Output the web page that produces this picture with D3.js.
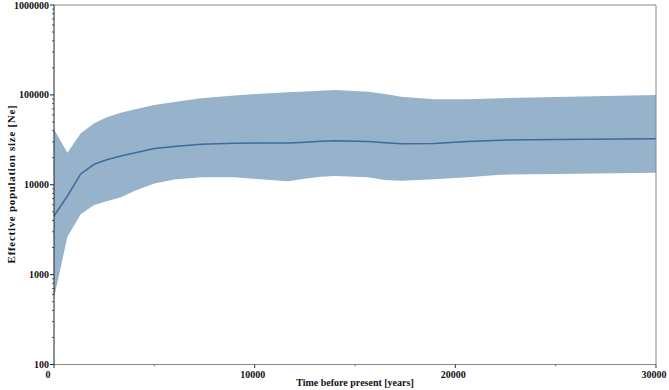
<!DOCTYPE html>
<html>
<head>
<meta charset="utf-8">
<script src="https://cdn.jsdelivr.net/npm/d3@7"></script>
<style>
  body { margin: 0; background: #fff; }
  svg { display: block; }
  text { font-family: "Liberation Serif", "DejaVu Serif", serif; font-weight: bold; fill: #111; }
</style>
</head>
<body>
<svg width="669" height="390"></svg>
<script>
// years before present
const times = [0, 667, 1333, 2000, 2667, 3333, 4000, 5000, 6000, 7333, 9000, 10300, 11660, 12300,
  13300, 14000, 15650, 16500, 17300, 18930, 20600, 22250, 25000, 30000];
const median = [4490, 7500, 13180, 16890, 19100, 20890, 22550, 25300, 26650, 28200, 28900, 29100, 29200, 29600,
  30500, 30900, 30300, 29300, 28500, 28800, 30300, 31300, 31900, 32500];
const upper = [41400, 22740, 37370, 48300, 56700, 63400, 68750, 77100, 83300, 91600, 98400, 102800, 106800, 108300,
  111500, 113300, 108400, 102200, 95400, 89300, 89300, 91600, 94700, 99700];
const lower = [545, 2640, 4690, 5950, 6590, 7250, 8510, 10330, 11430, 12100, 12100, 11500, 10920, 11500,
  12290, 12500, 12100, 11290, 11090, 11500, 12100, 12940, 13170, 13620];
const xTicks = [0, 10000, 20000, 30000];
const yTicks = [100, 1000, 10000, 100000, 1000000];

const svg = d3.select("svg");
const plotL = 54, plotR = 656, plotT = 5, plotB = 364.5;

const x = d3.scaleLinear().domain([0, 30000]).range([plotL, plotR]);
const y = d3.scaleLog().domain([100, 1000000]).range([plotB, plotT]);

const rows = times.map((t, i) => ({ t: t, m: median[i], hi: upper[i], lo: lower[i] }));

svg.append("path")
  .datum(rows)
  .attr("fill", "#97b2cb")
  .attr("d", d3.area().x(d => x(d.t)).y0(d => y(d.lo)).y1(d => y(d.hi)));

svg.append("path")
  .datum(rows)
  .attr("fill", "none")
  .attr("stroke", "#3b6c9c")
  .attr("stroke-width", 1.5)
  .attr("d", d3.line().x(d => x(d.t)).y(d => y(d.m)));

// frame (top/right/bottom grey)
svg.append("path")
  .attr("d", `M${plotL},${plotT}H${plotR}V${plotB}H${plotL}`)
  .attr("fill", "none")
  .attr("stroke", "#888")
  .attr("stroke-width", 1);

// y axis
const minor = [];
for (let d = 100; d < 1000000; d *= 10) {
  [2, 3, 4, 5, 6, 7, 8, 9].forEach(k => minor.push(d * k));
}
const ya = svg.append("g");
ya.append("line").attr("x1", plotL).attr("x2", plotL).attr("y1", plotT).attr("y2", plotB)
  .attr("stroke", "#222").attr("stroke-width", 1);
ya.selectAll(".ymin").data(minor).enter().append("line")
  .attr("x1", plotL - 2).attr("x2", plotL).attr("y1", d => y(d)).attr("y2", d => y(d))
  .attr("stroke", "#333").attr("stroke-width", 0.8);
ya.selectAll(".ymaj").data(yTicks).enter().append("line")
  .attr("x1", plotL - 4).attr("x2", plotL).attr("y1", d => y(d)).attr("y2", d => y(d))
  .attr("stroke", "#222").attr("stroke-width", 1);
ya.selectAll("text").data(yTicks).enter().append("text")
  .attr("x", plotL - 5).attr("y", d => y(d) + 3.5)
  .attr("text-anchor", "end").attr("font-size", 10)
  .text(d => d);

// x axis
const xa = svg.append("g");
xa.selectAll(".xmin").data([5000, 15000, 25000]).enter().append("line")
  .attr("x1", d => x(d)).attr("x2", d => x(d)).attr("y1", plotB).attr("y2", plotB + 2)
  .attr("stroke", "#555").attr("stroke-width", 0.8);
xa.selectAll(".xmaj").data(xTicks).enter().append("line")
  .attr("x1", d => x(d)).attr("x2", d => x(d)).attr("y1", plotB).attr("y2", plotB + 3.5)
  .attr("stroke", "#333").attr("stroke-width", 1);
xa.selectAll("text").data(xTicks).enter().append("text")
  .attr("x", d => x(d) - (d === 0 ? 6 : 2)).attr("y", 378)
  .attr("text-anchor", "middle").attr("font-size", 10)
  .text(d => d);

svg.append("text")
  .attr("x", (plotL + plotR) / 2).attr("y", 385.5)
  .attr("text-anchor", "middle").attr("font-size", 10)
  .text("Time before present [years]");

svg.append("text")
  .attr("transform", `translate(14.5,184) rotate(-90)`)
  .attr("text-anchor", "middle").attr("font-size", 11)
  .attr("letter-spacing", 0.7)
  .text("Effective population size [Ne]");
</script>
</body>
</html>
